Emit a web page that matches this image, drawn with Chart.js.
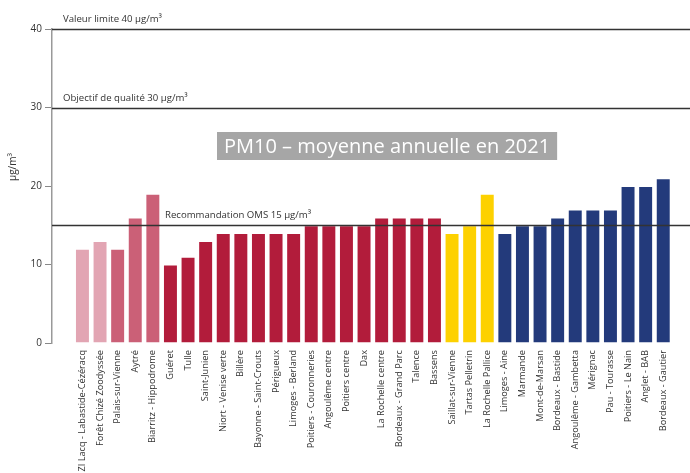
<!DOCTYPE html>
<html>
<head>
<meta charset="utf-8">
<script src="https://cdn.jsdelivr.net/npm/chart.js@4"></script>
<style>
html,body{margin:0;padding:0;background:#fff;}
#wrap{width:690px;height:473px;position:relative;}
</style>
</head>
<body>
<div id="wrap"><canvas id="c" width="690" height="473"></canvas></div>
<script>
const stations = ["ZI Lacq - Labastide-Cézéracq","Forêt Chizé Zoodyssée","Palais-sur-Vienne","Aytré","Biarritz - Hippodrome","Guéret","Tulle","Saint-Junien","Niort - Venise verte","Billère","Bayonne - Saint-Crouts","Périgueux","Limoges - Berland","Poitiers - Couronneries","Angoulême centre","Poitiers centre","Dax","La Rochelle centre","Bordeaux - Grand Parc","Talence","Bassens","Saillat-sur-Vienne","Tartas Pelletrin","La Rochelle Pallice","Limoges - Aine","Marmande","Mont-de-Marsan","Bordeaux - Bastide","Angoulême - Gambetta","Mérignac","Pau - Tourasse","Poitiers - Le Nain","Anglet - BAB","Bordeaux - Gautier"];
const pm10 = [12,13,12,16,19,10,11,13,14,14,14,14,14,15,15,15,15,16,16,16,16,14,15,19,14,15,15,16,17,17,17,20,20,21];
const stationType = ["A","A","B","B","B","C","C","C","C","C","C","C","C","C","C","C","C","C","C","C","C","D","D","D","E","E","E","E","E","E","E","E","E","E"];
const typeColors = {A:"#E2A5B3",B:"#CB6077",C:"#B21C3B",D:"#FDD100",E:"#233A7B"};
const yTicks = [0,10,20,30,40];
const refValues = [40,30,15];
const refLabels = ["Valeur limite 40 µg/m³","Objectif de qualité 30 µg/m³","Recommandation OMS 15 µg/m³"];
const chartTitle = "PM10 – moyenne annuelle en 2021";
const yTitle = "µg/m³";

const FONT = "'Open Sans', 'Noto Sans', sans-serif";

const overlay = {
  id: 'overlay',
  afterDatasetsDraw(chart) {
    const {ctx, chartArea, scales} = chart;
    const y = scales.y;
    ctx.save();
    ctx.strokeStyle = '#333';
    ctx.lineWidth = 1.4;
    refValues.forEach((v, i) => {
      const py = Math.round(y.getPixelForValue(v)) + 0.5;
      ctx.beginPath();
      ctx.moveTo(chartArea.left, py);
      ctx.lineTo(chartArea.right, py);
      ctx.stroke();
      ctx.fillStyle = '#333';
      ctx.font = "9.6px " + FONT;
      ctx.textAlign = 'left';
      ctx.textBaseline = 'alphabetic';
      const lx = i === 2 ? 165 : 63;
      ctx.fillText(refLabels[i], lx, py - 8);
    });
    ctx.font = "20px " + FONT;
    const tw = ctx.measureText(chartTitle).width;
    const bx = 217, by = 132, bh = 28;
    ctx.fillStyle = '#A6A6A6';
    ctx.fillRect(bx, by, tw + 14, bh);
    ctx.fillStyle = '#fff';
    ctx.textBaseline = 'middle';
    ctx.fillText(chartTitle, bx + 7, by + bh / 2 + 1);
    ctx.translate(13, 167);
    ctx.rotate(-Math.PI / 2);
    ctx.font = "10px " + FONT;
    ctx.fillStyle = '#333';
    ctx.textAlign = 'center';
    ctx.textBaseline = 'middle';
    ctx.fillText(yTitle, 0, 0);
    ctx.restore();
  }
};

new Chart(document.getElementById('c'), {
  type: 'bar',
  data: {
    datasets: [{
      data: pm10.map((v, i) => ({x: i, y: v})),
      backgroundColor: stationType.map(t => typeColors[t]),
      borderColor: 'rgba(255,255,255,0.35)',
      borderWidth: 1,
      barPercentage: 0.85,
      categoryPercentage: 1
    }]
  },
  options: {
    responsive: false,
    animation: false,
    layout: {padding: {top: 29, right: 0, left: 0, bottom: 0}},
    plugins: {legend: {display: false}, tooltip: {enabled: false}},
    scales: {
      x: {
        type: 'linear',
        min: -1.73,
        max: 34.52,
        offset: false,
        afterBuildTicks(scale) { scale.ticks = stations.map((_, i) => ({value: i})); },
        afterFit(scale) { scale.height = 130; },
        ticks: {
          autoSkip: false,
          minRotation: 90,
          maxRotation: 90,
          padding: 7,
          color: '#333',
          font: {size: 9.2, family: FONT},
          callback: (v) => stations[v] !== undefined ? stations[v] : ''
        },
        grid: {display: false, drawTicks: false},
        border: {display: false}
      },
      y: {
        min: 0,
        max: 40,
        afterBuildTicks(scale) { scale.ticks = yTicks.map(v => ({value: v})); },
        afterFit(scale) { scale.width = 52; },
        ticks: {
          color: '#333',
          padding: 3,
          font: {size: 10, family: FONT}
        },
        grid: {display: true, drawOnChartArea: false, drawTicks: true, tickLength: 7, color: '#888', lineWidth: 1},
        border: {display: true, color: '#999', width: 1.5}
      }
    }
  },
  plugins: [overlay]
});
</script>
</body>
</html>
